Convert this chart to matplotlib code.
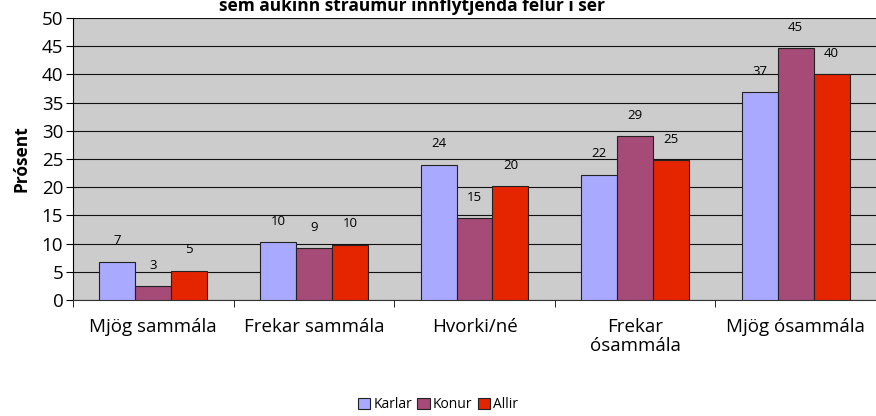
import numpy as np
import matplotlib.pyplot as plt

categories = ["Mjög sammála", "Frekar sammála", "Hvorki/né", "Frekar\nósammála", "Mjög ósammála"]
karlar = [6.8, 10.3, 24.0, 22.2, 36.8]
konur = [2.5, 9.2, 14.5, 29.0, 44.6]
allir = [5.2, 9.8, 20.2, 24.8, 40.0]
karlar_lbl = [7, 10, 24, 22, 37]
konur_lbl = [3, 9, 15, 29, 45]
allir_lbl = [5, 10, 20, 25, 40]
series = [("Karlar", karlar, karlar_lbl, "#a9a9ff"),
          ("Konur", konur, konur_lbl, "#a64a78"),
          ("Allir", allir, allir_lbl, "#e52400")]

plt.rcParams['font.family'] = ['Open Sans', 'DejaVu Sans']

fig = plt.figure(figsize=(8.76, 4.16), dpi=100)
ax = fig.add_axes([73 / 876, 1 - 300 / 416, 803 / 876, 282 / 416])
ax.set_facecolor("#cccccc")

x = np.arange(len(categories))
w = 0.224
for i, (name, vals, lbls, col) in enumerate(series):
    pos = x + (i - 1) * w
    ax.bar(pos, vals, w, color=col, edgecolor="#222222", linewidth=0.8, label=name, zorder=3)
    for p, v, l in zip(pos, vals, lbls):
        ax.text(p, v + 3.7, str(l), ha="center", va="center", fontsize=9.5, zorder=4)

ax.set_xlim(-0.5, len(categories) - 0.5)
ax.set_ylim(0, 50)
ax.set_yticks(np.arange(0, 51, 5))
ax.yaxis.grid(True, color="#111111", linewidth=0.8, zorder=0)
ax.set_axisbelow(True)
ax.set_xticks(x)
ax.set_xticklabels(categories, fontsize=13.5, linespacing=1.05)
ax.set_xticks(np.arange(-0.5, len(categories)), minor=True)
ax.tick_params(axis="x", which="major", length=0, pad=13)
ax.tick_params(axis="x", which="minor", length=5, color="black")
ax.tick_params(axis="y", labelsize=13.5, length=5, pad=2)
for s in ["top", "right"]:
    ax.spines[s].set_visible(False)
ax.spines["left"].set_color("black")
ax.spines["bottom"].set_color("#333333")

ax.set_ylabel("Prósent", fontsize=12.5, fontweight="bold", labelpad=8)

fig.text(0.47, 1 - 11 / 416, "sem aukinn straumur innflytjenda felur í sér",
         ha="center", va="baseline", fontsize=12.5, fontweight="bold")

fig.legend(loc="center", bbox_to_anchor=(0.5, 1 - 405 / 416), ncol=3, frameon=False,
           fontsize=10, handlelength=0.9, handleheight=0.9, handletextpad=0.2, columnspacing=0.4)

fig.savefig("out.png", dpi=100)
